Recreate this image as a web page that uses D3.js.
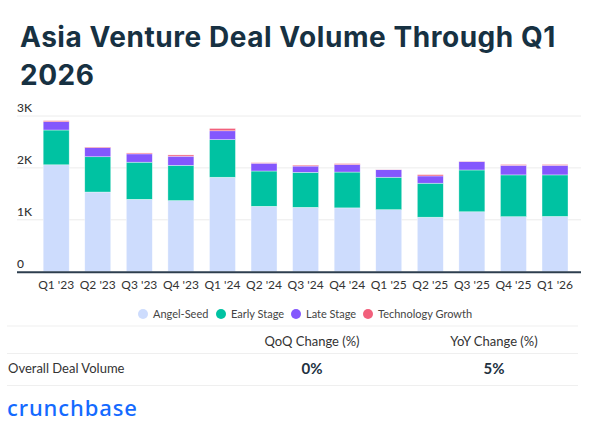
<!DOCTYPE html>
<html>
<head>
<meta charset="utf-8">
<script src="https://cdn.jsdelivr.net/npm/d3@7"></script>
<style>
  body { margin: 0; background: #fff; }
  svg { display: block; font-family: Lato, "Open Sans", sans-serif; }
</style>
</head>
<body>
<div id="chart"></div>
<script>
'use strict';

var quarters = ["Q1 '23", "Q2 '23", "Q3 '23", "Q4 '23", "Q1 '24", "Q2 '24", "Q3 '24",
    "Q4 '24", "Q1 '25", "Q2 '25", "Q3 '25", "Q4 '25", "Q1 '26"];

var angelSeed = [2060, 1535, 1395, 1370, 1820, 1260, 1240, 1230, 1195, 1050, 1155, 1060, 1065];
var earlyStage = [670, 680, 715, 680, 725, 680, 675, 690, 625, 655, 805, 805, 800];
var lateStage = [160, 175, 160, 175, 170, 150, 120, 145, 145, 140, 160, 185, 185];
var techGrowth = [20, 12, 18, 25, 45, 10, 18, 18, 5, 25, 5, 15, 15];

var seriesNames = ['Angel-Seed', 'Early Stage', 'Late Stage', 'Technology Growth'];
var seriesColors = ['#cddcfd', '#00c2a2', '#8457fd', '#f2607c'];

var yTicks = [0, 1000, 2000, 3000];
var yTickLabels = ['0', '1K', '2K', '3K'];

var tableHeaders = ['QoQ Change (%)', 'YoY Change (%)'];
var tableRow = 'Overall Deal Volume';
var tableValues = ['0%', '5%'];

var width = 600,
    height = 433;

var svg = d3.select('#chart').append('svg')
    .attr('width', width)
    .attr('height', height);

// title
var titleFont = 'Inter, "Open Sans", sans-serif';
svg.append('text')
    .attr('x', 20).attr('y', 47)
    .attr('fill', '#173142')
    .attr('font-family', titleFont)
    .attr('font-size', 28).attr('font-weight', 700)
    .attr('letter-spacing', 0.55)
    .text('Asia Venture Deal Volume Through Q1');
svg.append('text')
    .attr('x', 20).attr('y', 85)
    .attr('fill', '#173142')
    .attr('font-family', titleFont)
    .attr('font-size', 28).attr('font-weight', 700)
    .attr('letter-spacing', 0.55)
    .text('2026');

var rows = quarters.map(function(q, i) {
    return {q: q, s0: angelSeed[i], s1: earlyStage[i], s2: lateStage[i], s3: techGrowth[i]};
});

var stack = d3.stack().keys(['s0', 's1', 's2', 's3'])(rows);

var x = d3.scaleBand()
    .domain(quarters)
    .range([35.4, 575.8])
    .paddingInner(0.375)
    .paddingOuter(0.1875);

var y = d3.scaleLinear()
    .domain([0, 3000])
    .range([271.7, 116]);

// gridlines
svg.append('g').selectAll('line')
    .data(yTicks.slice(1))
    .enter().append('line')
    .attr('x1', 17).attr('x2', 581)
    .attr('y1', function(d) { return y(d); })
    .attr('y2', function(d) { return y(d); })
    .attr('stroke', '#ececec')
    .attr('stroke-width', 1);

svg.append('g').selectAll('text')
    .data(yTicks)
    .enter().append('text')
    .attr('x', 17)
    .attr('y', function(d) { return y(d) - 4; })
    .attr('fill', '#333')
    .attr('font-size', 12)
    .attr('font-weight', 500)
    .text(function(d, i) { return yTickLabels[i]; });

// bars
svg.append('g').selectAll('g')
    .data(stack)
    .enter().append('g')
    .attr('fill', function(d, i) { return seriesColors[i]; })
    .selectAll('rect')
    .data(function(d) { return d; })
    .enter().append('rect')
    .attr('x', function(d) { return x(d.data.q); })
    .attr('width', x.bandwidth())
    .attr('y', function(d) { return y(d[1]); })
    .attr('height', function(d) { return y(d[0]) - y(d[1]); })
    .attr('stroke', 'rgba(255,255,255,0.6)')
    .attr('stroke-width', 0.6);

// baseline + x axis
var xAxis = svg.append('g')
    .attr('transform', 'translate(0,' + y(0) + ')')
    .call(d3.axisBottom(x).tickSize(0).tickPadding(9));
xAxis.select('.domain').remove();
xAxis.selectAll('text')
    .attr('fill', '#333')
    .attr('font-size', 12)
    .attr('font-family', 'Lato, sans-serif');

svg.append('line')
    .attr('x1', 17).attr('x2', 581)
    .attr('y1', y(0) + 0.5).attr('y2', y(0) + 0.5)
    .attr('stroke', '#2d3e4e')
    .attr('stroke-width', 2);

// legend
var legendX = [143, 221, 296, 368];
var legend = svg.append('g').selectAll('g')
    .data(seriesNames)
    .enter().append('g')
    .attr('transform', function(d, i) { return 'translate(' + legendX[i] + ',314)'; });
legend.append('circle')
    .attr('r', 5)
    .attr('fill', function(d, i) { return seriesColors[i]; });
legend.append('text')
    .attr('x', 10).attr('y', 4)
    .attr('fill', '#444')
    .attr('font-size', 11)
    .text(function(d) { return d; });

// table
var tableLines = [326, 353.5, 385.5];
svg.append('g').selectAll('line')
    .data(tableLines)
    .enter().append('line')
    .attr('x1', 7).attr('x2', 578)
    .attr('y1', function(d) { return d; })
    .attr('y2', function(d) { return d; })
    .attr('stroke', '#efefef')
    .attr('stroke-width', 1);

var colX = [312, 494];
svg.append('g').selectAll('text')
    .data(tableHeaders)
    .enter().append('text')
    .attr('x', function(d, i) { return colX[i]; })
    .attr('y', 346)
    .attr('text-anchor', 'middle')
    .attr('fill', '#333')
    .attr('font-size', 13)
    .text(function(d) { return d; });

svg.append('text')
    .attr('x', 8).attr('y', 373)
    .attr('fill', '#333')
    .attr('font-size', 13)
    .text(tableRow);

svg.append('g').selectAll('text')
    .data(tableValues)
    .enter().append('text')
    .attr('x', function(d, i) { return colX[i]; })
    .attr('y', 373.5)
    .attr('text-anchor', 'middle')
    .attr('fill', '#22313f')
    .attr('font-size', 15)
    .attr('font-weight', 700)
    .text(function(d) { return d; });

// logo
svg.append('text')
    .attr('x', 7).attr('y', 416)
    .attr('fill', '#146aff')
    .attr('font-size', 22)
    .attr('font-weight', 500)
    .attr('letter-spacing', 0.9)
    .attr('font-family', '"Noto Sans", sans-serif')
    .text('crunchbase');
</script>
</body>
</html>
